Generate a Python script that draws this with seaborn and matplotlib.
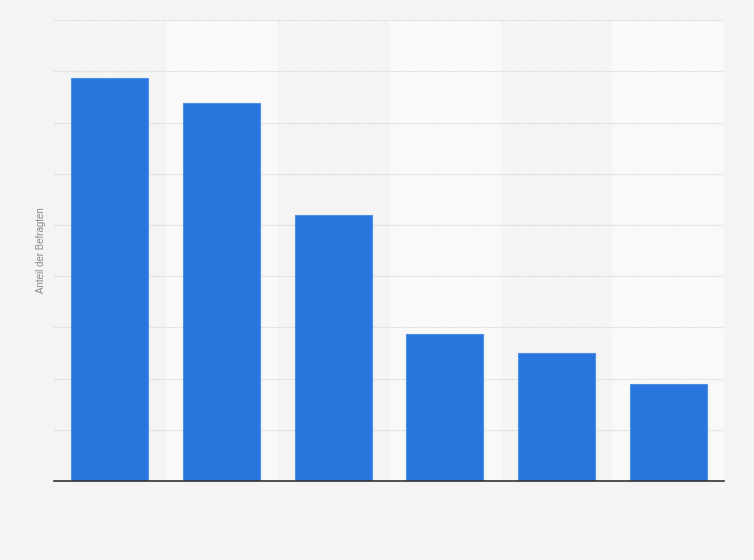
import pandas as pd
import matplotlib
matplotlib.use("Agg")
import matplotlib.pyplot as plt
import seaborn as sns

sns.set_style("white")
plt.rcParams['font.family'] = ['Liberation Sans', 'DejaVu Sans']

categories = ["A", "B", "C", "D", "E", "F"]
shares = [39.4, 36.9, 26.0, 14.4, 12.5, 9.5]
y_ticks = [0, 5, 10, 15, 20, 25, 30, 35, 40, 45]

df = pd.DataFrame({"Kategorie": categories, "Anteil": shares})

fig = plt.figure(figsize=(7.54, 5.6), dpi=100, facecolor='#f4f4f4')
ax = fig.add_axes([0.0716, 0.141, 0.8886, 0.823])
ax.set_facecolor('#f4f4f4')

# alternating column bands
for i in range(len(categories)):
    if i % 2 == 1:
        ax.axvspan(i - 0.5, i + 0.5, color='#f9f9f9', zorder=0, lw=0)

sns.barplot(data=df, x="Kategorie", y="Anteil", ax=ax, color='#2876dd',
            saturation=1, width=0.69, edgecolor='#4f8fe6', linewidth=0.8, zorder=3)

ax.set_xlim(-0.5, len(categories) - 0.5)
ax.set_ylim(0, 45)
ax.set_yticks(y_ticks)
ax.yaxis.grid(True, linestyle=(0, (1, 1)), color='#d2d2d2', linewidth=0.8, zorder=1)
ax.xaxis.grid(False)
ax.set_axisbelow(True)
ax.tick_params(left=False, bottom=False, labelleft=False, labelbottom=False)
ax.set_xlabel("")
ax.set_ylabel("Anteil der Befragten", fontsize=7, color='#888888', labelpad=6)

for s in ['top', 'right', 'left']:
    ax.spines[s].set_visible(False)
ax.spines['bottom'].set_color('#333333')
ax.spines['bottom'].set_linewidth(1.2)
ax.spines['bottom'].set_zorder(5)

fig.savefig("out.png", dpi=100, facecolor=fig.get_facecolor())
